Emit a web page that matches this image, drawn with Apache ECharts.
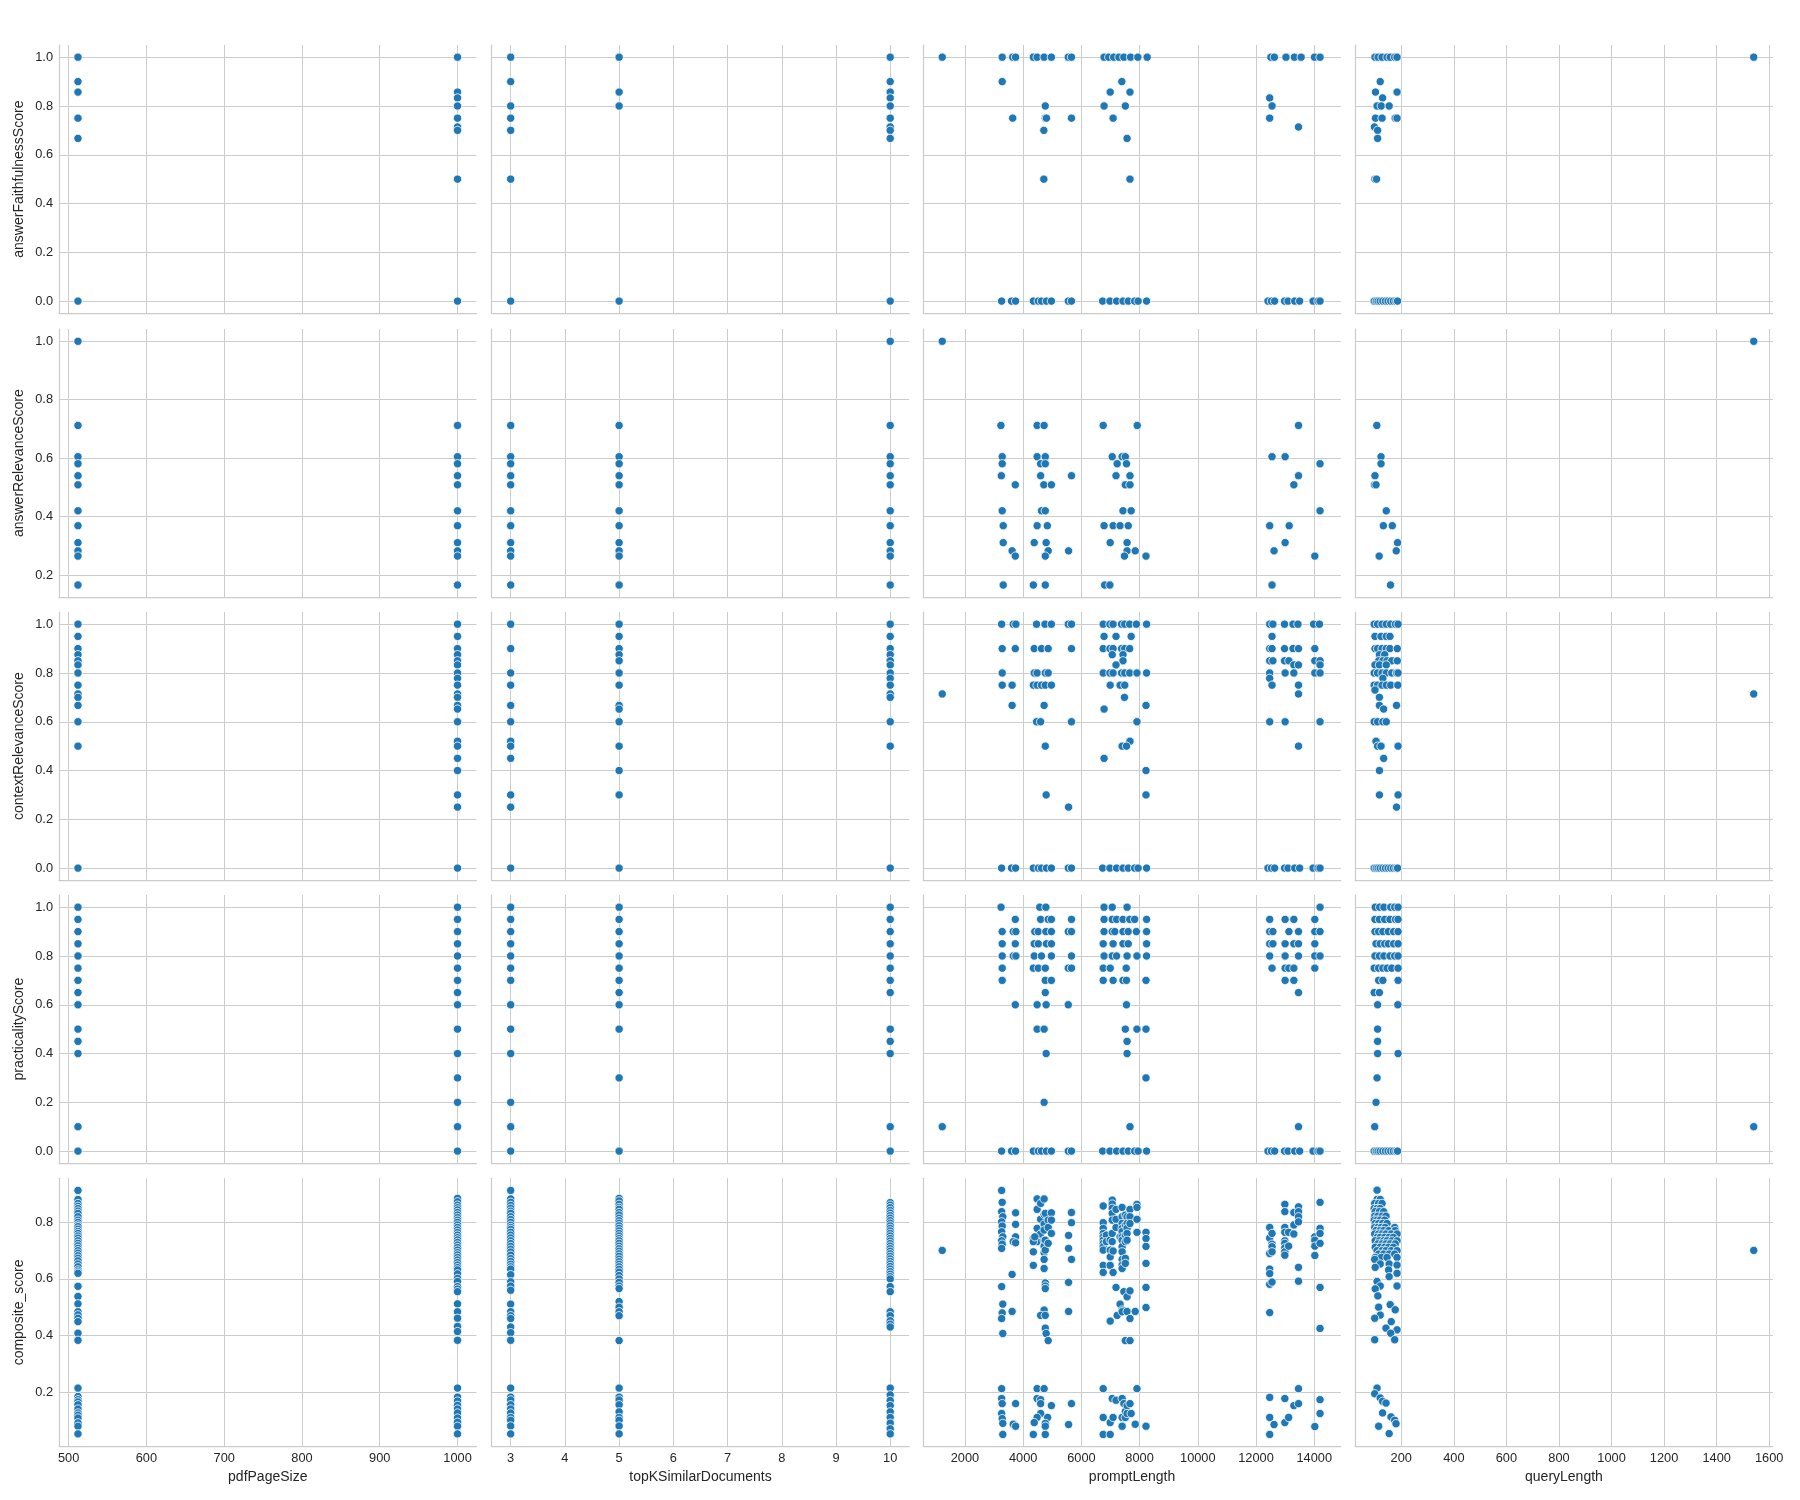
<!DOCTYPE html>
<html><head><meta charset="utf-8">
<script src="https://cdn.jsdelivr.net/npm/echarts@6/dist/echarts.min.js"></script>
<style>html,body{margin:0;padding:0;background:#fff}#c{width:1800px;height:1500px}</style>
</head><body><div id="c"></div><script>
// ---------- axis names and tick labels ----------
const rowNames = ['answerFaithfulnessScore','answerRelevanceScore','contextRelevanceScore','practicalityScore','composite_score'];
const colNames = ['pdfPageSize','topKSimilarDocuments','promptLength','queryLength'];
const pageSizeTicks = [500,600,700,800,900,1000];
const topKTicks = [3,4,5,6,7,8,9,10];
const promptTicks = [2000,4000,6000,8000,10000,12000,14000];
const queryTicks = [200,400,600,800,1000,1200,1400,1600];
const scoreTicks = [0,0.2,0.4,0.6,0.8,1.0];
const relevanceTicks = [0.2,0.4,0.6,0.8,1.0];
const compositeTicks = [0.2,0.4,0.6,0.8];

// ---------- records that scored 0 (same prompts / queries in several panels) ----------
const zeroScorePrompts = [3260,3600,3740,4350,4520,4630,4800,4970,5550,5660,6730,6980,7210,7430,7610,7830,7950,8240,12410,12530,12640,12980,13100,13330,13500,13960,14130,14200];
const zeroScoreQueries = [97,105,112,120,130,140,150,160,170,180,186];

// ---------- answerFaithfulnessScore ----------
const faithPage512 = [1.0,0.9,0.857,0.75,0.667,0.0];
const faithPage1000 = [1.0,0.857,0.833,0.8,0.75,0.714,0.7,0.5,0.0];
const faithTopK3 = [1.0,0.9,0.8,0.75,0.7,0.5,0.0];
const faithTopK5 = [1.0,0.857,0.8,0.0];
const faithTopK10 = [1.0,0.9,0.857,0.833,0.8,0.75,0.714,0.7,0.667,0.0];
const faithPrompt = [[1220,1],[3280,1],[3640,1],[3740,1],[4350,1],[4480,1],[4720,1],[4970,1],[5550,1],[5660,1],[6780,1],[6940,1],[7110,1],[7290,1],[7460,1],[7690,1],[7940,1],[8260,1],[12510,1],[12630,1],[13030,1],[13320,1],[13550,1],[14010,1],[14200,1],
 [3280,0.9],[7390,0.9],[6990,0.857],[7670,0.857],[12470,0.833],[4760,0.8],[6780,0.8],[7510,0.8],[12550,0.8],[3640,0.75],[4760,0.75],[4800,0.75],[5660,0.75],[7090,0.75],[12470,0.75],[13460,0.714],[4710,0.7],[7570,0.667],[4710,0.5],[7670,0.5]];
const faithQuery = [[100,1],[112,1],[127,1],[146,1],[158,1],[175,1],[184,1],[1541,1],
 [120,0.9],[102,0.857],[184,0.857],[129,0.833],[108,0.8],[124,0.8],[154,0.8],[102,0.75],[127,0.75],[177,0.75],[184,0.75],[98,0.714],[110,0.7],[110,0.667],[100,0.5],[106,0.5]];

// ---------- answerRelevanceScore ----------
const relPage512 = [1.0,0.712,0.605,0.581,0.540,0.509,0.420,0.369,0.311,0.283,0.265,0.166];
const relPage1000 = [0.712,0.605,0.581,0.540,0.509,0.420,0.369,0.311,0.283,0.265,0.166];
const relTopK3 = [0.712,0.605,0.581,0.540,0.509,0.420,0.369,0.311,0.283,0.265,0.166];
const relTopK5 = [0.712,0.605,0.581,0.540,0.509,0.420,0.369,0.311,0.283,0.265,0.166];
const relTopK10 = [1.0,0.712,0.605,0.581,0.540,0.509,0.420,0.369,0.311,0.283,0.265,0.166];
const relPrompt = [[1220,1.0],
 [3235,0.712],[4480,0.712],[4720,0.712],[6750,0.712],[7920,0.712],[13460,0.712],
 [3280,0.605],[4480,0.605],[4760,0.605],[7060,0.605],[7400,0.605],[7510,0.605],[12550,0.605],[13000,0.605],
 [3280,0.581],[4600,0.581],[4760,0.581],[7230,0.581],[7550,0.581],[14200,0.581],
 [3250,0.540],[4600,0.540],[5660,0.540],[7190,0.540],[7670,0.540],[13460,0.540],
 [3730,0.509],[4710,0.509],[4970,0.509],[7510,0.509],[7670,0.509],[13300,0.509],
 [3280,0.420],[4630,0.420],[4760,0.420],[7430,0.420],[7710,0.420],[14200,0.420],
 [3315,0.369],[4480,0.369],[4830,0.369],[6780,0.369],[7090,0.369],[7330,0.369],[7610,0.369],[12470,0.369],[13140,0.369],
 [3315,0.311],[4380,0.311],[4790,0.311],[6990,0.311],[7570,0.311],[13000,0.311],
 [3620,0.283],[4860,0.283],[5560,0.283],[7570,0.283],[7850,0.283],[12620,0.283],
 [3730,0.265],[4760,0.265],[7480,0.265],[8220,0.265],[14020,0.265],
 [3315,0.166],[4350,0.166],[4760,0.166],[6800,0.166],[6980,0.166],[12550,0.166]];
const relQuery = [[1541,1.0],[107,0.712],[123,0.605],[123,0.581],[100,0.540],[98,0.509],[104,0.509],[143,0.420],[132,0.369],[166,0.369],[186,0.311],[181,0.283],[116,0.265],[159,0.166]];

// ---------- contextRelevanceScore ----------
const ctxPage512 = [1.0,0.95,0.9,0.875,0.85,0.833,0.8,0.75,0.714,0.7,0.667,0.6,0.5,0.0];
const ctxPage1000 = [1.0,0.95,0.9,0.875,0.85,0.833,0.8,0.778,0.75,0.714,0.7,0.667,0.652,0.6,0.52,0.5,0.45,0.4,0.3,0.25,0.0];
const ctxTopK3 = [1.0,0.9,0.8,0.75,0.667,0.6,0.52,0.5,0.45,0.3,0.25,0.0];
const ctxTopK5 = [1.0,0.95,0.9,0.875,0.85,0.8,0.75,0.667,0.652,0.6,0.5,0.4,0.3,0.0];
const ctxTopK10 = [1.0,0.95,0.9,0.875,0.85,0.833,0.8,0.778,0.75,0.714,0.7,0.6,0.5,0.0];
const ctxPrompt = [
 [3260,1],[3660,1],[3750,1],[4460,1],[4750,1],[4970,1],[5550,1],[5660,1],[6750,1],[6980,1],[7090,1],[7380,1],[7490,1],[7660,1],[7890,1],[8240,1],[12470,1],[12580,1],[12980,1],[13270,1],[13440,1],[13980,1],[14180,1],
 [6780,0.95],[7190,0.95],[7710,0.95],[12550,0.95],
 [3280,0.9],[3730,0.9],[4380,0.9],[4630,0.9],[4860,0.9],[5660,0.9],[6750,0.9],[6980,0.9],[7090,0.9],[7380,0.9],[7490,0.9],[7660,0.9],[12470,0.9],[12550,0.9],[12980,0.9],[13270,0.9],[13460,0.9],[14020,0.9],
 [7060,0.875],[7430,0.875],
 [7430,0.85],[12470,0.85],[12580,0.85],[12980,0.85],[13130,0.85],[14020,0.85],[14200,0.85],
 [7190,0.833],[13300,0.833],[13460,0.833],[14200,0.833],
 [3280,0.8],[4380,0.8],[4480,0.8],[4760,0.8],[4860,0.8],[6750,0.8],[6980,0.8],[7090,0.8],[7380,0.8],[7490,0.8],[7660,0.8],[7910,0.8],[8240,0.8],[12470,0.8],[13000,0.8],[13300,0.8],[14020,0.8],[14200,0.8],
 [12470,0.778],
 [3280,0.75],[3620,0.75],[4350,0.75],[4480,0.75],[4630,0.75],[4760,0.75],[4970,0.75],[6990,0.75],[7330,0.75],[7490,0.75],[12550,0.75],[13460,0.75],
 [1220,0.714],[13460,0.714],[7480,0.7],
 [3620,0.667],[4720,0.667],[8220,0.667],[6780,0.652],
 [4460,0.6],[4600,0.6],[5660,0.6],[7910,0.6],[12470,0.6],[13000,0.6],[14200,0.6],
 [7670,0.52],[4760,0.5],[7400,0.5],[7550,0.5],[13460,0.5],[6780,0.45],[8220,0.4],[4790,0.3],[8220,0.3],[5560,0.25]];
const ctxQuery = [[1541,0.714],
 [97,1],[110,1],[127,1],[143,1],[160,1],[178,1],[188,1],
 [100,0.95],[123,0.95],[143,0.95],[157,0.95],
 [100,0.9],[110,0.9],[127,0.9],[143,0.9],[157,0.9],[185,0.9],
 [117,0.875],[137,0.875],
 [114,0.85],[130,0.85],[146,0.85],[164,0.85],[185,0.85],
 [100,0.833],[117,0.833],[143,0.833],
 [97,0.8],[110,0.8],[127,0.8],[143,0.8],[164,0.8],[182,0.8],[188,0.8],
 [130,0.778],
 [97,0.75],[110,0.75],[127,0.75],[143,0.75],[160,0.75],[187,0.75],
 [100,0.73],[117,0.7],[117,0.667],[182,0.667],[133,0.652],
 [97,0.6],[110,0.6],[130,0.6],[143,0.6],
 [104,0.52],[110,0.5],[123,0.5],[188,0.5],[133,0.45],[117,0.4],[117,0.3],[188,0.3],[182,0.25]];

// ---------- practicalityScore ----------
const pracPage512 = [1.0,0.95,0.9,0.85,0.8,0.75,0.7,0.65,0.6,0.5,0.45,0.4,0.1,0.0];
const pracPage1000 = [1.0,0.95,0.9,0.85,0.8,0.75,0.7,0.65,0.6,0.5,0.4,0.3,0.2,0.1,0.0];
const pracTopK3 = [1.0,0.95,0.9,0.85,0.8,0.75,0.7,0.6,0.5,0.4,0.2,0.1,0.0];
const pracTopK5 = [1.0,0.95,0.9,0.85,0.8,0.75,0.7,0.65,0.6,0.5,0.3,0.0];
const pracTopK10 = [1.0,0.95,0.9,0.85,0.8,0.75,0.7,0.65,0.5,0.45,0.4,0.1,0.0];
const pracPrompt = [
 [3240,1],[4570,1],[4780,1],[6780,1],[7060,1],[7570,1],[14200,1],
 [3730,0.95],[4600,0.95],[4860,0.95],[4970,0.95],[5660,0.95],[6780,0.95],[7060,0.95],[7210,0.95],[7430,0.95],[7660,0.95],[7830,0.95],[8240,0.95],[12470,0.95],[13000,0.95],[13300,0.95],[14020,0.95],
 [3280,0.9],[3660,0.9],[3750,0.9],[4400,0.9],[4520,0.9],[4780,0.9],[4970,0.9],[5550,0.9],[5660,0.9],[6780,0.9],[7060,0.9],[7150,0.9],[7430,0.9],[7610,0.9],[7890,0.9],[8240,0.9],[12470,0.9],[12580,0.9],[13130,0.9],[13460,0.9],[14020,0.9],[14200,0.9],
 [3280,0.85],[3730,0.85],[4380,0.85],[4520,0.85],[4800,0.85],[4970,0.85],[6750,0.85],[7090,0.85],[7430,0.85],[7610,0.85],[8240,0.85],[12470,0.85],[12580,0.85],[13000,0.85],[13300,0.85],[13460,0.85],[14020,0.85],
 [3280,0.8],[3660,0.8],[3750,0.8],[4380,0.8],[4630,0.8],[4970,0.8],[5660,0.8],[6780,0.8],[7060,0.8],[7210,0.8],[7570,0.8],[7910,0.8],[8240,0.8],[12470,0.8],[13000,0.8],[13460,0.8],[14020,0.8],[14200,0.8],
 [3280,0.75],[4350,0.75],[4520,0.75],[4760,0.75],[5550,0.75],[5660,0.75],[6750,0.75],[6990,0.75],[7540,0.75],[12550,0.75],[13000,0.75],[13130,0.75],[13300,0.75],[14020,0.75],
 [3280,0.7],[4760,0.7],[4970,0.7],[6750,0.7],[7090,0.7],[7430,0.7],[7550,0.7],[8220,0.7],[13000,0.7],[13300,0.7],
 [4760,0.65],[13460,0.65],
 [3730,0.6],[4480,0.6],[4790,0.6],[5550,0.6],[7550,0.6],
 [4480,0.5],[4720,0.5],[7510,0.5],[7910,0.5],[8220,0.5],
 [7570,0.45],[4790,0.4],[7570,0.4],[8220,0.3],[4720,0.2],[1220,0.1],[7670,0.1],[13460,0.1]];
const pracQuery = [[1541,0.1],
 [101,1],[118,1],[134,1],[160,1],[175,1],[188,1],
 [100,0.95],[117,0.95],[137,0.95],[157,0.95],[178,0.95],[188,0.95],
 [100,0.9],[114,0.9],[130,0.9],[151,0.9],[171,0.9],[188,0.9],
 [104,0.85],[120,0.85],[137,0.85],[151,0.85],[171,0.85],[188,0.85],
 [100,0.8],[117,0.8],[134,0.8],[157,0.8],[175,0.8],[188,0.8],
 [97,0.75],[114,0.75],[130,0.75],[146,0.75],[164,0.75],[188,0.75],
 [114,0.7],[130,0.7],[188,0.7],[97,0.65],[117,0.65],[110,0.6],[187,0.6],
 [110,0.5],[110,0.45],[110,0.4],[188,0.4],[108,0.3],[104,0.2],[99,0.1]];

// ---------- composite_score ----------
const compPage512 = [0.913,0.881,0.867,0.857,0.849,0.840,0.832,0.820,0.808,0.800,0.791,0.785,0.776,0.768,0.761,0.752,0.744,0.735,0.726,0.717,0.708,0.700,0.691,0.682,0.673,0.664,0.653,0.643,0.632,0.625,0.620,0.574,0.538,0.512,0.484,0.473,0.461,0.449,0.408,0.383,0.214,0.184,0.173,0.165,0.155,0.140,0.126,0.118,0.108,0.091,0.079,0.052];
const compPage1000 = [0.885,0.873,0.861,0.852,0.844,0.835,0.826,0.817,0.808,0.800,0.791,0.782,0.773,0.764,0.755,0.746,0.738,0.729,0.720,0.711,0.702,0.693,0.685,0.676,0.667,0.658,0.649,0.640,0.632,0.618,0.602,0.591,0.573,0.564,0.555,0.512,0.484,0.461,0.432,0.414,0.383,0.214,0.182,0.168,0.153,0.140,0.126,0.108,0.093,0.079,0.052];
const compTopK3 = [0.913,0.883,0.871,0.860,0.850,0.840,0.832,0.820,0.810,0.800,0.790,0.782,0.775,0.765,0.755,0.745,0.735,0.725,0.715,0.705,0.695,0.684,0.672,0.662,0.652,0.643,0.635,0.615,0.590,0.575,0.560,0.511,0.484,0.470,0.460,0.430,0.410,0.383,0.214,0.182,0.172,0.155,0.140,0.126,0.110,0.100,0.080,0.052];
const compTopK5 = [0.885,0.876,0.864,0.853,0.846,0.835,0.826,0.815,0.806,0.797,0.788,0.779,0.770,0.761,0.752,0.743,0.735,0.726,0.716,0.707,0.698,0.689,0.680,0.670,0.661,0.652,0.643,0.634,0.624,0.612,0.600,0.588,0.575,0.566,0.520,0.500,0.484,0.470,0.382,0.214,0.182,0.172,0.155,0.130,0.110,0.100,0.080,0.052];
const compTopK10 = [0.870,0.861,0.852,0.842,0.833,0.824,0.815,0.806,0.797,0.788,0.779,0.770,0.761,0.752,0.743,0.734,0.725,0.716,0.707,0.698,0.689,0.680,0.671,0.662,0.653,0.644,0.635,0.626,0.617,0.608,0.600,0.573,0.555,0.484,0.470,0.452,0.440,0.430,0.214,0.190,0.170,0.152,0.130,0.110,0.090,0.070,0.052];
const compPrompt = [[1220,0.701],
 [3260,0.913],[3280,0.871],[3260,0.838],[3300,0.820],[3260,0.802],[3280,0.787],[3260,0.767],[3300,0.749],[3260,0.735],[3280,0.723],[3260,0.708],[3260,0.573],[3300,0.511],[3280,0.480],[3260,0.460],[3300,0.407],[3260,0.212],[3260,0.177],[3280,0.159],[3260,0.124],[3280,0.106],[3300,0.089],[3300,0.050],
 [3740,0.834],[3740,0.793],[3740,0.749],[3660,0.732],[3740,0.728],[3620,0.616],[3620,0.485],[3740,0.159],[3660,0.086],[3740,0.079],
 [4480,0.883],[4480,0.846],[4480,0.779],[4480,0.743],[4480,0.732],[4600,0.867],[4600,0.811],[4600,0.759],[4720,0.883],[4720,0.828],[4720,0.794],[4720,0.773],[4720,0.737],[4720,0.716],[4720,0.693],[4720,0.669],[4760,0.832],[4760,0.737],[4760,0.702],[4860,0.808],[4860,0.782],[4860,0.726],[4970,0.834],[4970,0.808],[4970,0.761],[4350,0.743],[4350,0.732],[4350,0.696],[4350,0.648],[4400,0.749],[4720,0.637],[4760,0.586],[4760,0.575],[4760,0.566],[4720,0.490],[4600,0.471],[4760,0.471],[4760,0.426],[4790,0.407],[4860,0.382],
 [4480,0.212],[4480,0.177],[4720,0.212],[4600,0.173],[4600,0.159],[4970,0.152],[4600,0.124],[4480,0.110],[4840,0.110],[4380,0.092],[4760,0.089],[4760,0.079],[4350,0.050],[4760,0.050],
 [5660,0.835],[5660,0.799],[5560,0.754],[5560,0.708],[5660,0.669],[5560,0.588],[5560,0.485],[5660,0.159],[5560,0.085],
 [6750,0.858],[6750,0.799],[6750,0.779],[6750,0.761],[6750,0.749],[6750,0.737],[6750,0.726],[6750,0.714],[6750,0.702],[6750,0.648],[6750,0.623],[6750,0.212],[6750,0.110],[6750,0.050],
 [6860,0.755],[6860,0.732],
 [6990,0.737],[6990,0.702],[6990,0.678],[6990,0.648],[6990,0.451],[6990,0.092],[6990,0.050],
 [7060,0.879],[7060,0.865],[7060,0.850],[7060,0.832],[7060,0.808],[7060,0.761],[7060,0.732],[7060,0.177],
 [7090,0.699],[7090,0.623],[7090,0.110],
 [7190,0.846],[7190,0.811],[7190,0.782],[7190,0.570],[7190,0.171],[7230,0.471],[7330,0.749],[7330,0.511],
 [7400,0.853],[7400,0.820],[7400,0.796],[7400,0.779],[7400,0.767],[7400,0.749],[7400,0.737],[7400,0.714],[7400,0.696],[7400,0.669],[7400,0.649],[7400,0.637],[7400,0.490],[7400,0.484],[7400,0.177],[7400,0.110],[7400,0.079],
 [7460,0.555],[7460,0.159],
 [7510,0.826],[7510,0.791],[7510,0.755],[7510,0.732],[7510,0.673],[7510,0.655],[7510,0.382],[7510,0.131],[7510,0.110],
 [7570,0.820],[7570,0.796],[7570,0.779],[7570,0.761],[7570,0.737],[7570,0.537],[7570,0.485],[7570,0.151],[7570,0.124],
 [7670,0.846],[7670,0.820],[7670,0.796],[7670,0.558],[7670,0.460],[7670,0.382],[7670,0.159],[7710,0.124],
 [7850,0.485],[7850,0.086],
 [7910,0.864],[7910,0.853],[7910,0.811],[7910,0.765],[7910,0.212],
 [8220,0.765],[8220,0.743],[8220,0.715],[8220,0.655],[8220,0.570],[8220,0.499],[8220,0.079],
 [12470,0.782],[12470,0.745],[12470,0.690],[12470,0.635],[12470,0.619],[12470,0.581],[12470,0.481],[12470,0.181],[12470,0.110],[12470,0.050],
 [12550,0.761],[12550,0.723],[12550,0.714],[12550,0.696],[12550,0.589],[12620,0.085],
 [12990,0.864],[12990,0.838],[12990,0.782],[12990,0.765],[12990,0.735],[12990,0.726],[12990,0.710],[12990,0.696],[12990,0.684],[12990,0.177],[12990,0.092],
 [13120,0.765],[13120,0.716],[13120,0.110],
 [13300,0.835],[13300,0.791],[13300,0.759],[13300,0.152],
 [13460,0.855],[13460,0.838],[13460,0.820],[13460,0.802],[13460,0.641],[13460,0.592],[13460,0.212],[13460,0.159],
 [14020,0.749],[14020,0.737],[14020,0.716],[14020,0.683],[14020,0.078],
 [14200,0.871],[14200,0.779],[14200,0.761],[14200,0.726],[14200,0.570],[14200,0.425],[14200,0.173],[14200,0.124]];
const compQuery = [[1541,0.701],
 [108,0.914],[108,0.881],[120,0.881],[99,0.867],[114,0.867],[127,0.867],[97,0.849],[108,0.849],[120,0.849],[101,0.838],[117,0.838],[133,0.838],
 [99,0.822],[111,0.822],[127,0.822],[142,0.822],[97,0.808],[108,0.808],[120,0.808],[137,0.808],[101,0.796],[114,0.796],[129,0.796],[146,0.796],
 [99,0.782],[111,0.782],[124,0.782],[139,0.782],[175,0.782],[104,0.771],[120,0.771],[133,0.771],[152,0.771],[177,0.771],
 [99,0.759],[114,0.759],[127,0.759],[142,0.759],[162,0.759],[184,0.759],[108,0.747],[120,0.747],[137,0.747],[154,0.747],[170,0.747],
 [101,0.735],[117,0.735],[133,0.735],[146,0.735],[165,0.735],[184,0.735],[111,0.724],[127,0.724],[142,0.724],[158,0.724],[177,0.724],
 [101,0.712],[120,0.712],[137,0.712],[152,0.712],[170,0.712],[108,0.700],[127,0.700],[142,0.700],[162,0.700],[184,0.700],
 [114,0.688],[133,0.688],[154,0.688],[175,0.688],[101,0.676],[124,0.676],[146,0.676],[184,0.676],[99,0.669],
 [120,0.653],[154,0.653],[184,0.649],[101,0.641],[152,0.632],[184,0.620],[154,0.608],[108,0.591],[120,0.575],[184,0.575],[101,0.565],
 [111,0.540],[158,0.509],[114,0.500],[177,0.491],[120,0.472],[99,0.461],[162,0.449],[142,0.426],[184,0.420],[160,0.408],[99,0.385],[175,0.385],
 [108,0.214],[99,0.194],[120,0.179],[129,0.167],[142,0.161],[129,0.126],[161,0.112],[175,0.100],[180,0.088],[114,0.079],[154,0.053]];

// ---------- build panels ----------
const zerosP = zeroScorePrompts.map(x => [x, 0]);
const zerosQ = zeroScoreQueries.map(x => [x, 0]);
const at = (x, arr) => arr.map(v => [x, v]);
const panelData = [
  [at(512, faithPage512).concat(at(1000, faithPage1000)), at(3, faithTopK3).concat(at(5, faithTopK5), at(10, faithTopK10)), faithPrompt.concat(zerosP), faithQuery.concat(zerosQ)],
  [at(512, relPage512).concat(at(1000, relPage1000)), at(3, relTopK3).concat(at(5, relTopK5), at(10, relTopK10)), relPrompt, relQuery],
  [at(512, ctxPage512).concat(at(1000, ctxPage1000)), at(3, ctxTopK3).concat(at(5, ctxTopK5), at(10, ctxTopK10)), ctxPrompt.concat(zerosP), ctxQuery.concat(zerosQ)],
  [at(512, pracPage512).concat(at(1000, pracPage1000)), at(3, pracTopK3).concat(at(5, pracTopK5), at(10, pracTopK10)), pracPrompt.concat(zerosP), pracQuery.concat(zerosQ)],
  [at(512, compPage512).concat(at(1000, compPage1000)), at(3, compTopK3).concat(at(5, compTopK5), at(10, compTopK10)), compPrompt, compQuery]
];
const yTicksByRow = [scoreTicks, relevanceTicks, scoreTicks, scoreTicks, compositeTicks];
const xTicksByCol = [pageSizeTicks, topKTicks, promptTicks, queryTicks];
const yRange = [[-0.05,1.05],[0.124,1.042],[-0.05,1.05],[-0.05,1.05],[0.007,0.956]];
const xRange = [[487.6,1024.4],[2.65,10.35],[569,14913],[24.8,1613.2]];

const lefts = [59, 491.7, 923.3, 1355.2], W = 417.5;
const tops = [45, 329, 612, 895, 1178.3], H = 268.3;
const txt = '#262626', gridc = '#cccccc', font = 'Liberation Sans, Arial, sans-serif';

const grids = [], xAxes = [], yAxes = [], series = [];
for (let r = 0; r < 5; r++) {
  for (let c = 0; c < 4; c++) {
    const i = grids.length;
    grids.push({left: lefts[c], top: tops[r], width: W, height: H, containLabel: false});
    xAxes.push({
      gridIndex: i, type: 'value', min: xRange[c][0], max: xRange[c][1],
      name: r === 4 ? colNames[c] : '', nameLocation: 'middle', nameGap: 24,
      nameTextStyle: {fontSize: 14, color: txt, fontFamily: font},
      axisLine: {show: true, onZero: false, lineStyle: {color: gridc, width: 1.25}},
      axisTick: {show: false, customValues: xTicksByCol[c]},
      axisLabel: {show: r === 4, customValues: xTicksByCol[c], fontSize: 12.8, color: txt, fontFamily: font, margin: 5,
                  formatter: v => String(v), showMinLabel: true, showMaxLabel: true, hideOverlap: false},
      splitLine: {show: true, lineStyle: {color: gridc, width: 1}}
    });
    yAxes.push({
      gridIndex: i, type: 'value', min: yRange[r][0], max: yRange[r][1],
      name: c === 0 ? rowNames[r] : '', nameLocation: 'middle', nameGap: 33,
      nameTextStyle: {fontSize: 14, color: txt, fontFamily: font},
      axisLine: {show: true, onZero: false, lineStyle: {color: gridc, width: 1.25}},
      axisTick: {show: false, customValues: yTicksByRow[r]},
      axisLabel: {show: c === 0, customValues: yTicksByRow[r], fontSize: 12.8, color: txt, fontFamily: font, margin: 6,
                  formatter: v => v.toFixed(1), showMinLabel: true, showMaxLabel: true, hideOverlap: false},
      splitLine: {show: true, lineStyle: {color: gridc, width: 1}}
    });
    series.push({
      type: 'scatter', xAxisIndex: i, yAxisIndex: i, data: panelData[r][c],
      symbol: 'circle', symbolSize: 8.3,
      itemStyle: {color: '#1f77b4', borderColor: '#ffffff', borderWidth: 0.8, opacity: 1},
      silent: true
    });
  }
}

const chart = echarts.init(document.getElementById('c'), null, {renderer: 'canvas'});
chart.setOption({
  backgroundColor: '#ffffff', animation: false,
  textStyle: {fontFamily: font},
  grid: grids, xAxis: xAxes, yAxis: yAxes, series: series
});
</script></body></html>
